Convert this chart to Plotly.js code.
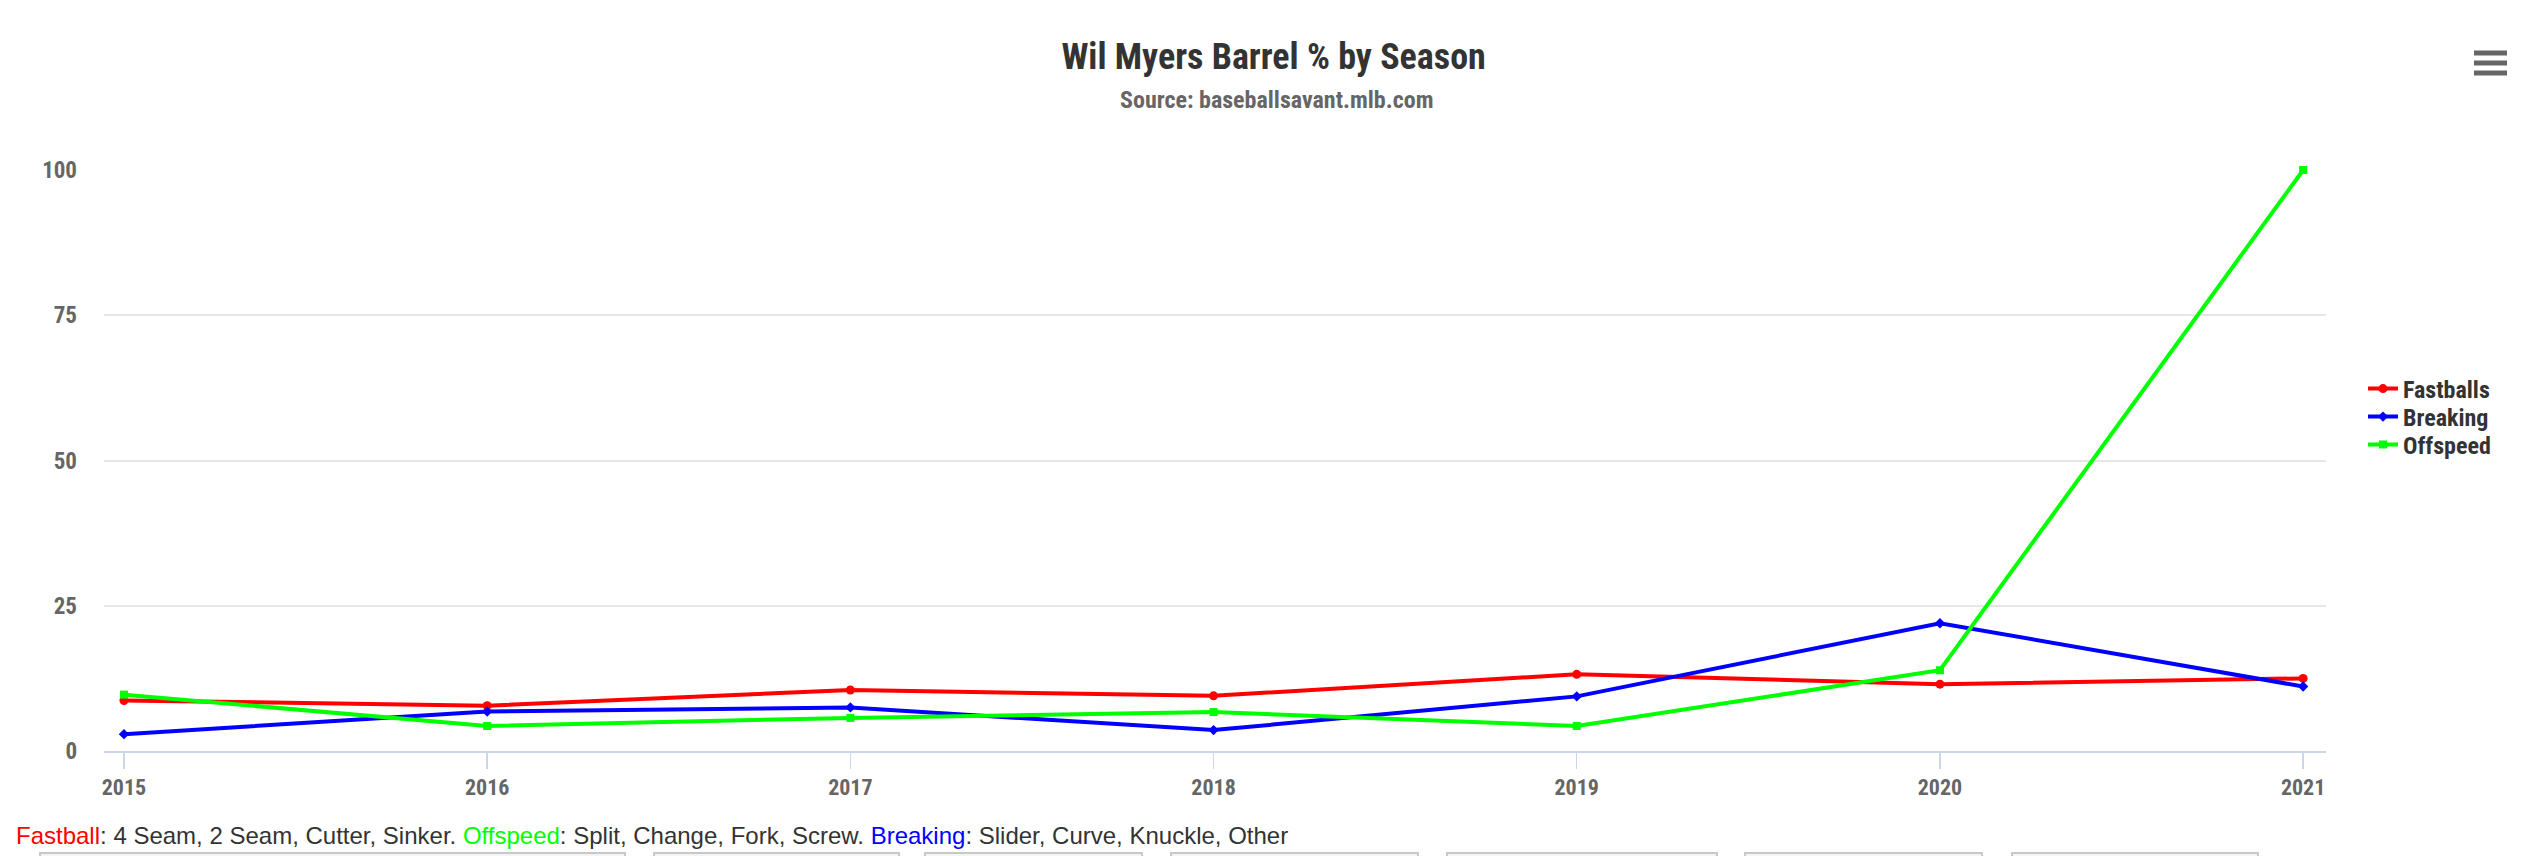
<!DOCTYPE html>
<html>
<head>
<meta charset="utf-8">
<script src="https://cdn.plot.ly/plotly-3.0.1.min.js"></script>
<style>
  html, body { margin: 0; padding: 0; background: #fff; }
  #chart { width: 2532px; height: 856px; }
</style>
</head>
<body>
<div id="chart"></div>
<script>
// ---- data ----
const seasons = [2015, 2016, 2017, 2018, 2019, 2020, 2021];
const fastballs = [8.7, 7.8, 10.5, 9.5, 13.2, 11.5, 12.5];
const breaking = [2.9, 6.8, 7.5, 3.6, 9.4, 22.0, 11.1];
const offspeed = [9.7, 4.3, 5.7, 6.7, 4.3, 13.9, 100];
const yTicks = [0, 25, 50, 75, 100];
const seriesNames = ['Fastballs', 'Breaking', 'Offspeed'];

const W = 2532, H = 856;
const plotL = 104, plotR = 2326, plotT = 170, plotB = 751;
const pw = plotR - plotL, ph = plotB - plotT;
const px2paperX = p => (p - plotL) / pw;
const px2paperY = p => (plotB - p) / ph;

const condensed = '"Roboto Condensed", "Liberation Sans Narrow", "DejaVu Sans Condensed", Roboto, sans-serif';

function mk(name, y, color, symbol, msize, legendId) {
  return {
    type: 'scatter', mode: 'lines+markers', name: name,
    x: seasons, y: y,
    line: { color: color, width: 4 },
    marker: { color: color, symbol: symbol, size: msize },
    cliponaxis: false,
    legend: legendId
  };
}

const traces = [
  mk(seriesNames[0], fastballs, '#ff0000', 'circle', 9, 'legend'),
  mk(seriesNames[1], breaking, '#0000ff', 'diamond', 8, 'legend2'),
  mk(seriesNames[2], offspeed, '#00ff00', 'square', 8, 'legend3')
];

// bottom button tops (page chrome)
const btns = [[40,625],[654,899],[925,1142],[1171,1418],[1447,1717],[1745,1982],[2012,2258]];
const shapes = btns.map(b => ({
  type: 'rect', xref: 'paper', yref: 'paper',
  x0: px2paperX(b[0]), x1: px2paperX(b[1]),
  y0: px2paperY(875), y1: px2paperY(853),
  fillcolor: '#f4f4f4', line: { color: '#c8c8c8', width: 2 }, layer: 'above'
}));
// hamburger menu icon
[53, 63, 73].forEach(cy => {
  shapes.push({
    type: 'rect', xref: 'paper', yref: 'paper',
    x0: px2paperX(2474), x1: px2paperX(2507),
    y0: px2paperY(cy + 2.6), y1: px2paperY(cy - 2.6),
    fillcolor: '#666666', line: { width: 0 }, layer: 'above'
  });
});

const note = '<span style="color:#ff0000">Fastball</span>: 4 Seam, 2 Seam, Cutter, Sinker. ' +
  '<span style="color:#00ff00">Offspeed</span>: Split, Change, Fork, Screw. ' +
  '<span style="color:#0000ff">Breaking</span>: Slider, Curve, Knuckle, Other';

const legendBase = (cy) => ({
  xref: 'container', yref: 'container',
  x: 2363 / W, xanchor: 'left',
  y: 1 - cy / H, yanchor: 'middle',
  font: { family: condensed, size: 24, color: '#333333', weight: 'bold' },
  bgcolor: 'rgba(0,0,0,0)', itemwidth: 30
});

const layout = {
  width: W, height: H,
  margin: { l: plotL, r: W - plotR, t: plotT, b: H - plotB },
  paper_bgcolor: '#ffffff', plot_bgcolor: '#ffffff',
  title: {
    text: 'Wil Myers Barrel % by Season',
    font: { family: condensed, size: 36, color: '#333333', weight: 'bold' },
    x: 0.503, xref: 'container', xanchor: 'center',
    y: 1 - 56 / H, yref: 'container', yanchor: 'middle'
  },
  xaxis: {
    range: [2014.945, 2021.063],
    tickvals: seasons, ticktext: seasons.map(String),
    showgrid: false, zeroline: false,
    showline: true, linecolor: '#ccd6eb', linewidth: 2,
    ticks: 'outside', ticklen: 16, tickwidth: 1.5, tickcolor: '#ccd6eb',
    tickfont: { family: condensed, size: 22, color: '#666666', weight: 'bold' },
    fixedrange: true
  },
  yaxis: {
    range: [0, 100],
    tickvals: yTicks, ticktext: yTicks.map(String),
    showgrid: true, gridcolor: '#e6e6e6', gridwidth: 2,
    zeroline: false, showline: false, ticks: '',
    ticklabelstandoff: 26,
    tickfont: { family: condensed, size: 23, color: '#666666', weight: 'bold' },
    fixedrange: true
  },
  legend: legendBase(389),
  legend2: legendBase(417),
  legend3: legendBase(445),
  showlegend: true,
  annotations: [
    {
      text: 'Source: baseballsavant.mlb.com', showarrow: false,
      xref: 'paper', yref: 'paper',
      x: px2paperX(1276), xanchor: 'center', y: px2paperY(100), yanchor: 'middle',
      font: { family: condensed, size: 24, color: '#666666', weight: 'bold' }
    },
    {
      text: note, showarrow: false,
      xref: 'paper', yref: 'paper',
      x: px2paperX(14), xanchor: 'left', y: px2paperY(835), yanchor: 'middle',
      font: { family: '"Liberation Sans", Arial, sans-serif', size: 24, color: '#333333' }
    }
  ],
  shapes: shapes
};

Plotly.newPlot('chart', traces, layout, { displayModeBar: false, staticPlot: true });
</script>
</body>
</html>
